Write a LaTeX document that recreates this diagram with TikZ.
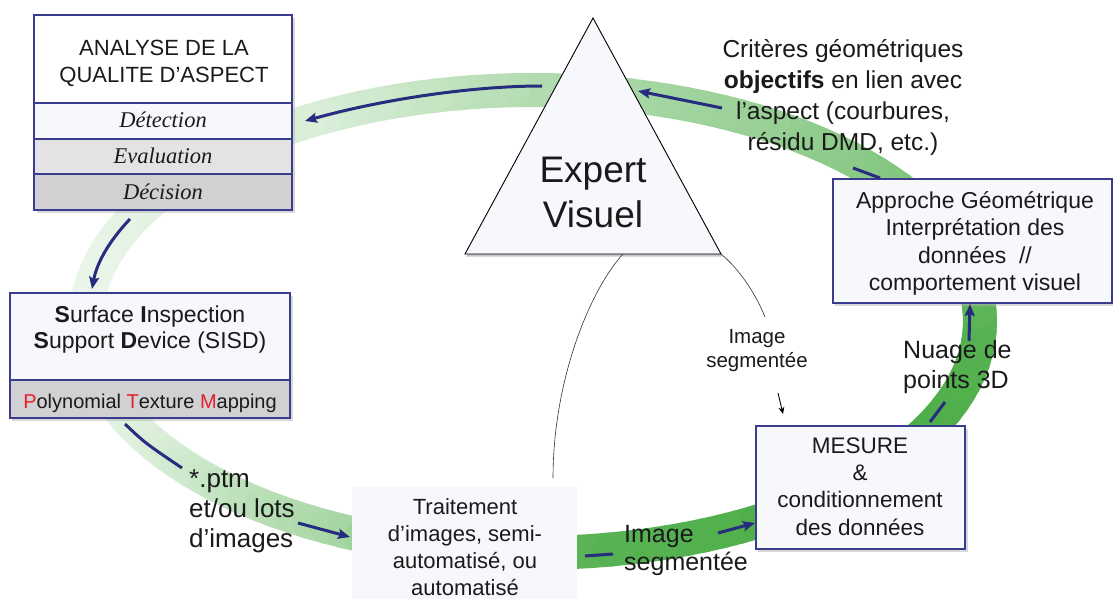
\documentclass[tikz,border=0pt]{standalone}
\usepackage{fontspec}
\setmainfont{Liberation Sans}
\newfontfamily\timesfam{Liberation Serif}
\usetikzlibrary{arrows.meta}
\definecolor{grn}{HTML}{3AA535}
\definecolor{navy}{HTML}{262C7E}
\definecolor{boxborder}{HTML}{3A3C8E}
\definecolor{boxfill}{HTML}{F7F8FC}
\definecolor{rowtwo}{HTML}{E3E3E6}
\definecolor{rowthree}{HTML}{D1D0D3}
\definecolor{ptmred}{HTML}{E3202B}
\definecolor{txtc}{HTML}{1A1A1A}
\begin{document}
\begin{tikzpicture}[x=1pt,y=-1pt,
  navarrow/.style={draw=navy, line width=3pt, -{Stealth[length=12pt,width=10pt,inset=2pt]}},
  navline/.style={draw=navy, line width=3pt},
  thinline/.style={draw=black!80, line width=0.6pt},
  bx/.style={draw=boxborder, line width=1.3pt, fill=boxfill},
  shad/.style={fill=black!30, opacity=0.5},
  lbl/.style={inner sep=0pt, align=center, text=txtc, anchor=north},
  lbll/.style={inner sep=0pt, align=left, text=txtc, anchor=north west},
  rowlbl/.style={inner sep=0pt, text=txtc, anchor=base}
]
\useasboundingbox (0,0) rectangle (1113,599);
\fill[white] (0,0) rectangle (1113,599);

% ---- green ring ----
\foreach \sa/\sb/\pa/\pb in {-180/-150/10/17, -150/-115/17/44, -115/-90/44/83, -90/-40/83/93, -40/0/93/86, 0/45/86/60, 45/90/60/40, 90/120/40/20, 120/180/20/10}{
  \pgfmathtruncatemacro\nn{((\sb)-(\sa))/2.5}
  \foreach \k in {1,...,\nn}{
    \pgfmathsetmacro\ta{(\sa)+((\sb)-(\sa))*(\k-1)/\nn}
    \pgfmathsetmacro\tb{(\sa)+((\sb)-(\sa))*\k/\nn}
    \pgfmathtruncatemacro\pp{(\pa)+((\pb)-(\pa))*(\k-0.5)/\nn}
    \draw[line width=34pt, line cap=round, grn!\pp!white]
      ({533+447*cos(\ta)},{321.5-231.5*sin(\ta)}) -- ({533+447*cos(\tb)},{321.5-231.5*sin(\tb)});
  }
}

% ---- triangle (Expert Visuel) ----
\coordinate (apex) at (593,18);
\coordinate (tbl) at (465,254);
\coordinate (tbr) at (721,254);
\coordinate (tleg) at (623,254);
\fill[black!45, opacity=0.5] (594,20) -- (466,256.5) -- (722.5,256.5) -- cycle;
\filldraw[fill=boxfill, draw=black, line width=0.9pt] (apex) -- (tbl) -- (tbr) -- cycle;
\node[lbl, font=\fontsize{37}{45}\selectfont] (expert) at (593,150.5) {\strut Expert\\Visuel};

% ---- Traitement box ----
\fill[boxfill] (352,487) rectangle (577,599);
\node[lbl, font=\fontsize{22}{27}\selectfont] (trait) at (465,495.5)
  {\strut Traitement\\d’images, semi-\\automatisé, ou\\automatisé};
\coordinate (traittop) at (553,478);

% thin curves
\draw[thinline] (tleg) .. controls (590,290) and (553,380) .. (traittop);
\coordinate (segend) at (765,317);
\draw[thinline] (tbr) .. controls (738,268) and (755,292) .. (segend);

% ---- ANALYSE box ----
\fill[shad] (37,18) rectangle (295,213);
\fill[white] (34,15) rectangle (292,103);
\fill[boxfill] (34,103) rectangle (292,139);
\fill[rowtwo] (34,139) rectangle (292,174);
\fill[rowthree] (34,174) rectangle (292,210);
\draw[boxborder, line width=1.2pt] (34,103) -- (292,103) (34,139) -- (292,139) (34,174) -- (292,174);
\draw[boxborder, line width=1.5pt] (34,15) rectangle (292,210);
\node[lbl, font=\fontsize{22}{27}\selectfont] (anatitle) at (164,36.1) {\strut ANALYSE DE LA\\QUALITE D’ASPECT};
\node[rowlbl, font=\timesfam\itshape\fontsize{22.5}{27}\selectfont] (det) at (163,128) {Détection};
\node[rowlbl, font=\timesfam\itshape\fontsize{22.5}{27}\selectfont] (eval) at (163,164) {Evaluation};
\node[rowlbl, font=\timesfam\itshape\fontsize{22.5}{27}\selectfont] (dec) at (163,199.5) {Décision};

% ---- SISD box ----
\fill[shad] (12,295.5) rectangle (292.5,420.5);
\fill[boxfill] (10,293) rectangle (290,380);
\fill[rowthree] (10,380) rectangle (290,418);
\draw[boxborder, line width=1.2pt] (10,380) -- (290,380);
\draw[boxborder, line width=1.3pt] (10,293) rectangle (290,418);
\node[lbl, font=\fontsize{23}{26.5}\selectfont] (sisd) at (150,303.5)
  {\strut\textbf{S}urface \textbf{I}nspection\\\textbf{S}upport \textbf{D}evice (SISD)};
\node[rowlbl, font=\fontsize{20}{24}\selectfont] (ptm) at (150,408)
  {\textcolor{ptmred}{P}olynomial \textcolor{ptmred}{T}exture \textcolor{ptmred}{M}apping};

% ---- MESURE box ----
\fill[shad] (758,428.5) rectangle (967.5,551.5);
\draw[bx] (756,426) rectangle (965,549);
\node[lbl, font=\fontsize{22.5}{27.3}\selectfont] (mesure) at (860,433.9)
  {\strut MESURE\\\&\\conditionnement\\des données};

% ---- Approche box ----
\fill[shad] (835,181.5) rectangle (1113,305.5);
\draw[bx] (833,179) rectangle (1112,303);
\node[lbl, font=\fontsize{23}{27.5}\selectfont] (approche) at (975,188.75)
  {\strut Approche Géométrique\\Interprétation des\\données~~//\\comportement visuel};

% ---- free labels ----
\node[lbl, font=\fontsize{24.5}{31}\selectfont] (criteres) at (843,36)
  {\strut Critères géométriques\\\textbf{objectifs} en lien avec\\l’aspect (courbures,\\résidu DMD, etc.)};
\node[lbl, font=\fontsize{20.5}{24.5}\selectfont] (imgseg) at (757,325.9) {\strut Image\\segmentée};
\node[lbll, font=\fontsize{25}{30}\selectfont] (nuage) at (903,337) {\strut Nuage de\\points 3D};
\node[lbll, font=\fontsize{25}{28}\selectfont] (imgseg2) at (624,522.4) {\strut Image\\segmentée};
\node[lbll, font=\fontsize{26}{30}\selectfont] (ptmfile) at (189,466) {\strut *.ptm\\et/ou lots\\d’images};

% small black arrow to MESURE
\coordinate (sa1) at (778,393);
\coordinate (sa2) at (783,414);
\draw[black, line width=0.9pt, -{Stealth[length=7pt,width=6pt]}] (sa1) -- (sa2);

% ---- navy arrows along the ring ----
\coordinate (a1) at (542,86);
\coordinate (a2) at (305,121);
\draw[navarrow] (a1) .. controls (470,86) and (380,100) .. (a2);
\coordinate (b1) at (722,108);
\coordinate (b2) at (638,91);
\draw[navarrow] (b1) -- (b2);
\coordinate (c1) at (853,168);
\coordinate (c2) at (880,178);
\draw[navline] (c1) -- (c2);
\coordinate (d1) at (969,341);
\coordinate (d2) at (970,304);
\draw[navarrow] (d1) -- (d2);
\coordinate (e1) at (930,422);
\coordinate (e2) at (945,402);
\draw[navline] (e1) -- (e2);
\coordinate (f1) at (718,533);
\coordinate (f2) at (755,523);
\draw[navarrow] (f1) -- (f2);
\coordinate (g1) at (585,556);
\coordinate (g2) at (613,554);
\draw[navline] (g1) -- (g2);
\coordinate (h1) at (125,424);
\coordinate (h2) at (182,468);
\draw[navline] (h1) .. controls (145,443) .. (h2);
\coordinate (h3) at (298,523);
\coordinate (h4) at (350,537);
\draw[navarrow] (h3) -- (h4);
\coordinate (i1) at (130,219);
\coordinate (i2) at (92,289);
\draw[navarrow] (i1) .. controls (110,240) and (97,262) .. (i2);
\end{tikzpicture}
\end{document}
